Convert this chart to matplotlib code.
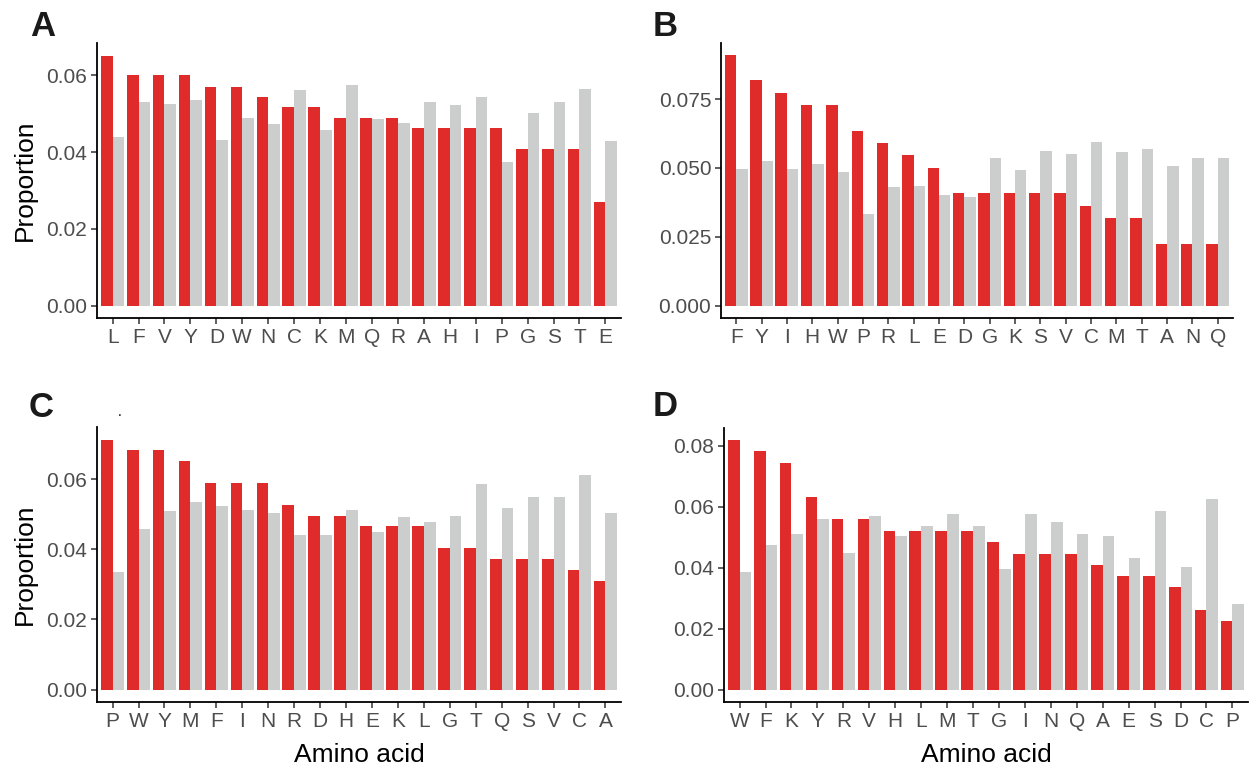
import numpy as np
import matplotlib.pyplot as plt

plt.rcParams['font.family'] = ['Liberation Sans', 'DejaVu Sans']

# panel A
aa_a = ['L', 'F', 'V', 'Y', 'D', 'W', 'N', 'C', 'K', 'M', 'Q', 'R', 'A', 'H', 'I', 'P', 'G', 'S', 'T', 'E']
red_a = [0.0652, 0.0600, 0.0600, 0.0600, 0.0571, 0.0571, 0.0545, 0.0517, 0.0517, 0.0490,
         0.0490, 0.0490, 0.0462, 0.0462, 0.0462, 0.0462, 0.0407, 0.0407, 0.0407, 0.0271]
gray_a = [0.0439, 0.0532, 0.0525, 0.0537, 0.0431, 0.0490, 0.0474, 0.0563, 0.0459, 0.0576,
          0.0486, 0.0477, 0.0532, 0.0522, 0.0545, 0.0373, 0.0502, 0.0532, 0.0564, 0.0428]

# panel B
aa_b = ['F', 'Y', 'I', 'H', 'W', 'P', 'R', 'L', 'E', 'D', 'G', 'K', 'S', 'V', 'C', 'M', 'T', 'A', 'N', 'Q']
red_b = [0.0909, 0.0820, 0.0773, 0.0728, 0.0728, 0.0636, 0.0592, 0.0547, 0.0500, 0.0410,
         0.0410, 0.0410, 0.0410, 0.0410, 0.0362, 0.0317, 0.0317, 0.0225, 0.0225, 0.0225]
gray_b = [0.0498, 0.0526, 0.0498, 0.0514, 0.0484, 0.0334, 0.0431, 0.0435, 0.0402, 0.0395,
          0.0535, 0.0492, 0.0562, 0.0551, 0.0593, 0.0557, 0.0569, 0.0507, 0.0535, 0.0535]

# panel C
aa_c = ['P', 'W', 'Y', 'M', 'F', 'I', 'N', 'R', 'D', 'H', 'E', 'K', 'L', 'G', 'T', 'Q', 'S', 'V', 'C', 'A']
red_c = [0.0713, 0.0683, 0.0683, 0.0652, 0.0589, 0.0589, 0.0589, 0.0527, 0.0496, 0.0496,
         0.0465, 0.0465, 0.0465, 0.0403, 0.0403, 0.0371, 0.0371, 0.0371, 0.0340, 0.0310]
gray_c = [0.0336, 0.0457, 0.0510, 0.0535, 0.0522, 0.0512, 0.0504, 0.0440, 0.0440, 0.0512,
          0.0448, 0.0492, 0.0479, 0.0496, 0.0586, 0.0517, 0.0549, 0.0549, 0.0612, 0.0504]

# panel D
aa_d = ['W', 'F', 'K', 'Y', 'R', 'V', 'H', 'L', 'M', 'T', 'G', 'I', 'N', 'Q', 'A', 'E', 'S', 'D', 'C', 'P']
red_d = [0.0817, 0.0781, 0.0744, 0.0632, 0.0559, 0.0559, 0.0521, 0.0521, 0.0521, 0.0521,
         0.0483, 0.0446, 0.0446, 0.0446, 0.0409, 0.0372, 0.0372, 0.0335, 0.0260, 0.0224]
gray_d = [0.0385, 0.0474, 0.0510, 0.0560, 0.0447, 0.0570, 0.0505, 0.0538, 0.0577, 0.0538,
          0.0396, 0.0577, 0.0551, 0.0510, 0.0505, 0.0432, 0.0584, 0.0401, 0.0624, 0.0282]

RED = '#e02b2b'
GRAY = '#cccdcd'
W, H = 1250, 772

fig = plt.figure(figsize=(12.5, 7.72), dpi=100)


def panel(box, letter, lpos, aa, red, gray, yticks, fmt, ylab, xlab):
    l, t, r, b = box
    ax = fig.add_axes([l / W, (H - b) / H, (r - l) / W, (b - t) / H])
    x = np.arange(len(aa))
    ax.bar(x - 0.225, red, 0.45, color=RED, linewidth=0)
    ax.bar(x + 0.225, gray, 0.45, color=GRAY, linewidth=0)
    m = max(max(red), max(gray))
    ax.set_ylim(-0.05 * m, 1.05 * m)
    ax.set_xlim(-0.6, len(aa) - 0.4)
    ax.set_xticks(x)
    ax.set_xticklabels(aa)
    ax.set_yticks(yticks)
    ax.set_yticklabels([fmt.format(v) for v in yticks])
    for s in ['top', 'right']:
        ax.spines[s].set_visible(False)
    for s in ['left', 'bottom']:
        ax.spines[s].set_linewidth(1.3)
        ax.spines[s].set_color('black')
    ax.tick_params(length=4, width=1.1, color='#333333', labelcolor='#4d4d4d',
                   labelsize=15, pad=3)
    if ylab:
        ax.set_ylabel('Proportion', fontsize=19, labelpad=7)
    if xlab:
        ax.set_xlabel('Amino acid', fontsize=19, labelpad=9)
    fig.text(lpos[0] / W, (H - lpos[1]) / H, letter, fontsize=25, fontweight='bold',
             color='#1a1a1a', va='baseline', ha='left')
    return ax


panel((97, 43, 621, 318), 'A', (30, 36.5), aa_a, red_a, gray_a,
      [0, 0.02, 0.04, 0.06], '{:.2f}', True, False)
panel((721, 43, 1233, 318), 'B', (653, 36.5), aa_b, red_b, gray_b,
      [0, 0.025, 0.05, 0.075], '{:.3f}', False, False)
panel((97, 427, 621, 702), 'C', (29, 417), aa_c, red_c, gray_c,
      [0, 0.02, 0.04, 0.06], '{:.2f}', True, True)
panel((724, 428, 1248, 702), 'D', (653, 416.5), aa_d, red_d, gray_d,
      [0, 0.02, 0.04, 0.06, 0.08], '{:.2f}', False, True)

# stray dot in the source image
fig.text(118 / W, (H - 416) / H, '.', fontsize=10, color='black')

fig.savefig('out.png', dpi=100, facecolor='white')
